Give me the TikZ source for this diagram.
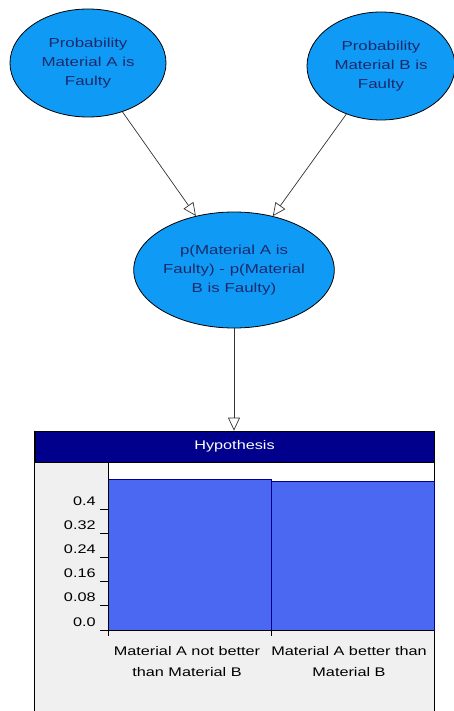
\documentclass[tikz,border=0pt]{standalone}
\usepackage{fontspec}
\setmainfont{Liberation Sans}[FakeStretch=1.3]
\usetikzlibrary{arrows.meta,shapes,calc,positioning}
\definecolor{nodeblue}{HTML}{0F9BF5}
\definecolor{nodetext}{HTML}{1B2A6B}
\definecolor{headnavy}{HTML}{00008C}
\definecolor{barblue}{HTML}{4A68F2}
\definecolor{panelgray}{HTML}{F0F0F0}

\begin{document}
\begin{tikzpicture}[x=1pt,y=-1pt,line width=0.8pt,
  prob/.style={ellipse,draw=black,fill=nodeblue,text=nodetext,align=center,inner sep=0pt,font=\fontsize{13}{19}\selectfont},
  link/.style={draw=black!80,line width=0.7pt,-{Triangle[open,length=13pt,width=12pt]}},
  axislbl/.style={font=\fontsize{12.5}{21}\selectfont,inner sep=0pt}]
\useasboundingbox (0,0) rectangle (454,711);
%nodes
\node[prob,minimum width=156pt,minimum height=108pt] (PA) at (88,63) {Probability\\Material A is\\Faulty};
\node[prob,minimum width=148pt,minimum height=108pt] (PB) at (381,66) {Probability\\Material B is\\Faulty};
\node[prob,minimum width=158pt,minimum height=116pt] (DIFF) at (234,270) {p(Material A is\\Faulty) - p(Material\\B is Faulty)};
%panel
\coordinate (O) at (108,630);
\fill[panelgray] (35,462) rectangle (434,716);
\fill[white] (108,462) rectangle (434,630);
\node[draw=black,fill=headnavy,text=white,axislbl,minimum width=399pt,minimum height=31pt] (HYP) at (234.5,446.5) {Hypothesis};
\draw (HYP.north west) -- ++(0,290);
\draw (HYP.north east) -- ++(0,290);
%links
\draw[link] (PA) -- (DIFF);
\draw[link] (PB) -- (DIFF);
\draw[link] (DIFF) -- (DIFF |- HYP.north);
%bars
\draw[fill=barblue,draw=headnavy,line width=0.6pt] (108,479) rectangle (271,630);
\draw[fill=barblue,draw=headnavy,line width=0.6pt] (271,481) rectangle (434,630);
%axes
\draw (108,462) -- (108,636);
\draw (100,630) -- (434,630);
\draw (271,630) -- (271,636);
\foreach \i/\val in {0/0.0,1/0.08,2/0.16,3/0.24,4/0.32,5/0.4} {
  \draw (100,{630-24.2*\i}) -- (108,{630-24.2*\i});
  \node[axislbl,anchor=base east] (TICK\i) at (96,{626-24.2*\i}) {\val};
}
%states
\node[axislbl,align=center,anchor=north] (S0) at (187,646) {Material A not better\\than Material B};
\node[axislbl,align=center,anchor=north] (S1) at (349,646) {Material A better than\\Material B};
\end{tikzpicture}
\end{document}
